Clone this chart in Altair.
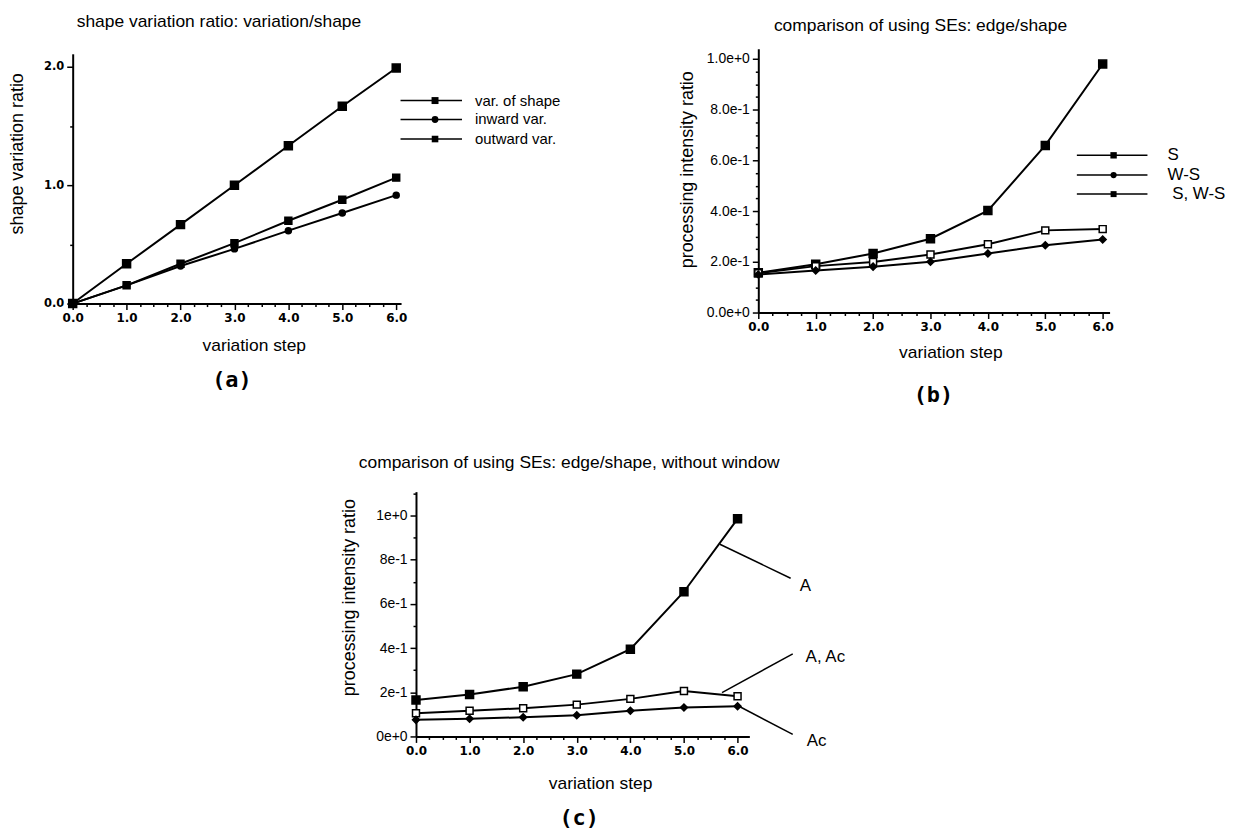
import altair as alt
import pandas as pd

STEPS = [0, 1, 2, 3, 4, 5, 6]
X_TITLE = "variation step"
PI_TITLE = "processing intensity ratio"

# ---- panel (a)
A_TITLE = "shape variation ratio: variation/shape"
A_Y_TITLE = "shape variation ratio"
A_LABELS = ["var. of shape", "inward var.", "outward var."]
A_VAR_SHAPE = [0.0, 0.336, 0.667, 1.0, 1.333, 1.667, 1.99]
A_INWARD = [0.0, 0.154, 0.317, 0.462, 0.616, 0.765, 0.916]
A_OUTWARD = [0.0, 0.154, 0.336, 0.51, 0.70, 0.877, 1.064]

# ---- panel (b)
B_TITLE = "comparison of using SEs: edge/shape"
B_LABELS = ["S", "W-S", "S, W-S"]
B_S = [0.155, 0.183, 0.199, 0.229, 0.269, 0.324, 0.329]
B_WS = [0.15, 0.166, 0.181, 0.20, 0.233, 0.265, 0.288]
B_S_WS = [0.157, 0.19, 0.233, 0.291, 0.402, 0.659, 0.98]

# ---- panel (c)
C_TITLE = "comparison of using SEs: edge/shape, without window"
C_LABELS = ["A", "A, Ac", "Ac"]
C_A = [0.165, 0.19, 0.225, 0.282, 0.395, 0.655, 0.985]
C_A_AC = [0.105, 0.116, 0.128, 0.144, 0.17, 0.206, 0.182]
C_AC = [0.075, 0.08, 0.087, 0.096, 0.116, 0.131, 0.137]

# legend / annotation placement (data units of each panel)
A_LEG_X = [6.08, 7.22]
A_LEG_MARK_X = 6.72
A_LEG_TEXT_X = 7.46
A_LEG_Y = [1.715, 1.555, 1.39]

B_LEG_X = [5.55, 6.78]
B_LEG_MARK_X = 6.19
B_LEG_TEXT_X = [7.13, 7.13, 7.21]
B_LEG_Y = [0.62, 0.542, 0.467]

C_NOTE_X0 = [5.67, 5.71, 6.0]
C_NOTE_Y0 = [0.87, 0.198, 0.14]
C_NOTE_X1 = [6.99, 7.03, 7.03]
C_NOTE_Y1 = [0.716, 0.374, 0.009]
C_NOTE_TX = [7.16, 7.27, 7.29]
C_NOTE_TY = [0.68, 0.36, -0.02]

# layout of the single canvas (pixels inside the plotting group)
W, H = 1042, 691
A_BOX = dict(x=[0, 330], y=[256, 5])
B_BOX = dict(x=[689, 1042], y=[265, 0])
C_BOX = dict(x=[345, 680], y=[691, 445])

SANS = "Liberation Sans"
TICKFONT = "DejaVu Sans"

INT_TEST = "abs(datum.value - round(datum.value)) < 0.001"
FIFTH_TEST = "abs(datum.value*5 - round(datum.value*5)) < 0.001"


def cond(test, major, minor):
    return {"condition": {"test": test, "value": major}, "value": minor}


def common(**kw):
    base = dict(tickWidth=1.5, tickColor="black", labelColor="black",
                labelPadding=3, labelFlush=False, labelOverlap=False,
                labelBound=False, domainColor="black", domainWidth=2,
                grid=False, titleFont=SANS, titleFontWeight="normal",
                titleColor="black", titleAlign="center", titleBaseline="middle")
    base.update(kw)
    return alt.Axis(**base)


def x_axis(offset, tx, ty):
    return common(
        title=X_TITLE, orient="bottom", offset=offset, titleX=tx, titleY=ty,
        titleAngle=0, titleFontSize=17.5, values=[i * 0.25 for i in range(25)],
        labelExpr=f"{INT_TEST} ? format(datum.value, '.1f') : ''",
        tickSize=cond(INT_TEST, 6, 3), labelFont=TICKFONT,
        labelFontWeight="bold", labelFontSize=12)


def y_axis(title, offset, tx, ty, values, test, expr, font, weight, size):
    return common(
        title=title, orient="left", offset=offset, titleX=tx, titleY=ty,
        titleAngle=270, titleFontSize=18, values=values,
        labelExpr=f"{test} ? ({expr}) : ''", tickSize=cond(test, 6, 3),
        labelFont=font, labelFontWeight=weight, labelFontSize=size)


def series_layers(values, label, shape, size, fill, xs, ys, xax, yax):
    df = pd.DataFrame({"step": STEPS, "value": values, "series": label})
    base = alt.Chart(df)
    enc = dict(x=alt.X("step:Q", scale=xs, axis=xax),
               y=alt.Y("value:Q", scale=ys, axis=yax))
    line = base.mark_line(color="black", strokeWidth=2).encode(**enc)
    pts = base.mark_point(shape=shape, size=size, filled=True, fill=fill,
                          stroke="black", strokeWidth=1.5, opacity=1).encode(**enc)
    return [line, pts]


def legend_layers(labels, ys, x0, x1, xm, xt, shapes, sizes, fsize, xs, ysc, xax, yax):
    base = alt.Chart(pd.DataFrame({"label": labels, "value": ys, "x0": x0, "x1": x1}))
    rule = base.mark_rule(color="black", strokeWidth=1.5).encode(
        x=alt.X("x0:Q", scale=xs, axis=xax), x2="x1:Q",
        y=alt.Y("value:Q", scale=ysc, axis=yax))
    pbase = alt.Chart(pd.DataFrame({"label": labels, "value": ys, "step": xm}))
    pts = pbase.mark_point(filled=True, color="black", opacity=1).encode(
        x=alt.X("step:Q", scale=xs, axis=xax),
        y=alt.Y("value:Q", scale=ysc, axis=yax),
        shape=alt.Shape("label:N", scale=alt.Scale(domain=labels, range=shapes), legend=None),
        size=alt.Size("label:N", scale=alt.Scale(domain=labels, range=sizes), legend=None),
    )
    tbase = alt.Chart(pd.DataFrame({"label": labels, "value": ys, "step": xt}))
    txt = tbase.mark_text(align="left", baseline="middle", font=SANS,
                          fontSize=fsize, color="black").encode(
        x=alt.X("step:Q", scale=xs, axis=xax),
        y=alt.Y("value:Q", scale=ysc, axis=yax), text="label:N")
    return [rule, pts, txt]


def label_text(text, px, py, font, size, weight="normal"):
    return alt.Chart(pd.DataFrame({"t": [text]})).mark_text(
        font=font, fontWeight=weight, fontSize=size, align="center",
        baseline="middle", color="black").encode(
        text="t:N", x=alt.value(px), y=alt.value(py))


def sc(domain, rng):
    return alt.Scale(domain=domain, range=rng, nice=False, zero=False)


# ---------------- panel (a)
axs, ays = sc([0, 6.09], A_BOX["x"]), sc([0, 2.11], A_BOX["y"])
a_xax = x_axis(-(H - A_BOX["y"][0]), 182, 42)
a_yax = y_axis(A_Y_TITLE, 0, -55, 105, [0, 0.5, 1, 1.5, 2], INT_TEST,
               "format(datum.value, '.1f')", TICKFONT, "bold", 11.5)
a_layers = []
a_layers += series_layers(A_VAR_SHAPE, A_LABELS[0], "square", 64, "black", axs, ays, a_xax, a_yax)
a_layers += series_layers(A_INWARD, A_LABELS[1], "circle", 36, "black", axs, ays, a_xax, a_yax)
a_layers += series_layers(A_OUTWARD, A_LABELS[2], "square", 49, "black", axs, ays, a_xax, a_yax)
a_layers += legend_layers(A_LABELS, A_LEG_Y, [A_LEG_X[0]] * 3, [A_LEG_X[1]] * 3,
                          [A_LEG_MARK_X] * 3, [A_LEG_TEXT_X] * 3,
                          ["square", "circle", "square"], [49, 36, 49], 15,
                          axs, ays, a_xax, a_yax)
panel_a = alt.layer(*a_layers)

# ---------------- panel (b)
bxs, bys = sc([0, 6.12], B_BOX["x"]), sc([0, 1.04], B_BOX["y"])
b_xax = x_axis(-(H - B_BOX["y"][0]), 882, 40)
b_yax = y_axis(PI_TITLE, -B_BOX["x"][0], -71, 121,
               [round(i * 0.05, 2) for i in range(21)], FIFTH_TEST,
               "datum.value < 0.001 ? '0.0e+0' : (datum.value > 0.999 ? '1.0e+0' : format(datum.value*10, '.1f') + 'e-1')",
               SANS, "normal", 14)
b_layers = []
b_layers += series_layers(B_S_WS, B_LABELS[2], "square", 64, "black", bxs, bys, b_xax, b_yax)
b_layers += series_layers(B_S, B_LABELS[0], "square", 49, "white", bxs, bys, b_xax, b_yax)
b_layers += series_layers(B_WS, B_LABELS[1], "diamond", 49, "black", bxs, bys, b_xax, b_yax)
b_layers += legend_layers(B_LABELS, B_LEG_Y, [B_LEG_X[0]] * 3, [B_LEG_X[1]] * 3,
                          [B_LEG_MARK_X] * 3, B_LEG_TEXT_X,
                          ["square", "diamond", "square"], [49, 49, 49], 17,
                          bxs, bys, b_xax, b_yax)
panel_b = alt.layer(*b_layers)

# ---------------- panel (c)
cxs, cys = sc([0, 6.22], C_BOX["x"]), sc([0, 1.108], C_BOX["y"])
c_xax = x_axis(0, 530, 47)
c_yax = y_axis(PI_TITLE, -C_BOX["x"][0], -67, 551,
               [round(i * 0.1, 1) for i in range(12)], FIFTH_TEST,
               "datum.value < 0.001 ? '0e+0' : (datum.value > 0.999 ? '1e+0' : format(datum.value*10, '.0f') + 'e-1')",
               SANS, "normal", 14)
c_layers = []
c_layers += series_layers(C_A, C_LABELS[0], "square", 64, "black", cxs, cys, c_xax, c_yax)
c_layers += series_layers(C_A_AC, C_LABELS[1], "square", 49, "white", cxs, cys, c_xax, c_yax)
c_layers += series_layers(C_AC, C_LABELS[2], "diamond", 49, "black", cxs, cys, c_xax, c_yax)
notes_line = pd.DataFrame({"label": C_LABELS, "step": C_NOTE_X0, "value": C_NOTE_Y0,
                           "x1": C_NOTE_X1, "y1": C_NOTE_Y1})
notes_text = pd.DataFrame({"label": C_LABELS, "step": C_NOTE_TX, "value": C_NOTE_TY})
c_layers.append(alt.Chart(notes_line).mark_rule(color="black", strokeWidth=1.5).encode(
    x=alt.X("step:Q", scale=cxs, axis=c_xax), x2="x1:Q",
    y=alt.Y("value:Q", scale=cys, axis=c_yax), y2="y1:Q"))
c_layers.append(alt.Chart(notes_text).mark_text(align="left", baseline="middle", font=SANS,
                                                fontSize=17, color="black").encode(
    x=alt.X("step:Q", scale=cxs, axis=c_xax),
    y=alt.Y("value:Q", scale=cys, axis=c_yax), text="label:N"))
panel_c = alt.layer(*c_layers)

# ---------------- panel titles and tags
texts = alt.layer(
    label_text(A_TITLE, 147, -27, SANS, 17.5),
    label_text(B_TITLE, 852, -23, SANS, 17.5),
    label_text(C_TITLE, 499, 416, SANS, 17.5),
    label_text("(a)", 160, 333, "DejaVu Sans Mono", 22, "bold"),
    label_text("(b)", 865, 348, "DejaVu Sans Mono", 22, "bold"),
    label_text("(c)", 509, 773, "DejaVu Sans Mono", 22, "bold"),
)

chart = alt.layer(panel_a, panel_b, panel_c, texts).resolve_scale(
    x="independent", y="independent"
).properties(
    width=W, height=H,
    padding={"left": 1, "top": 3, "right": 0, "bottom": 0},
).configure_view(stroke=None)

chart.save("out.html", embed_options={"renderer": "svg", "actions": False})
